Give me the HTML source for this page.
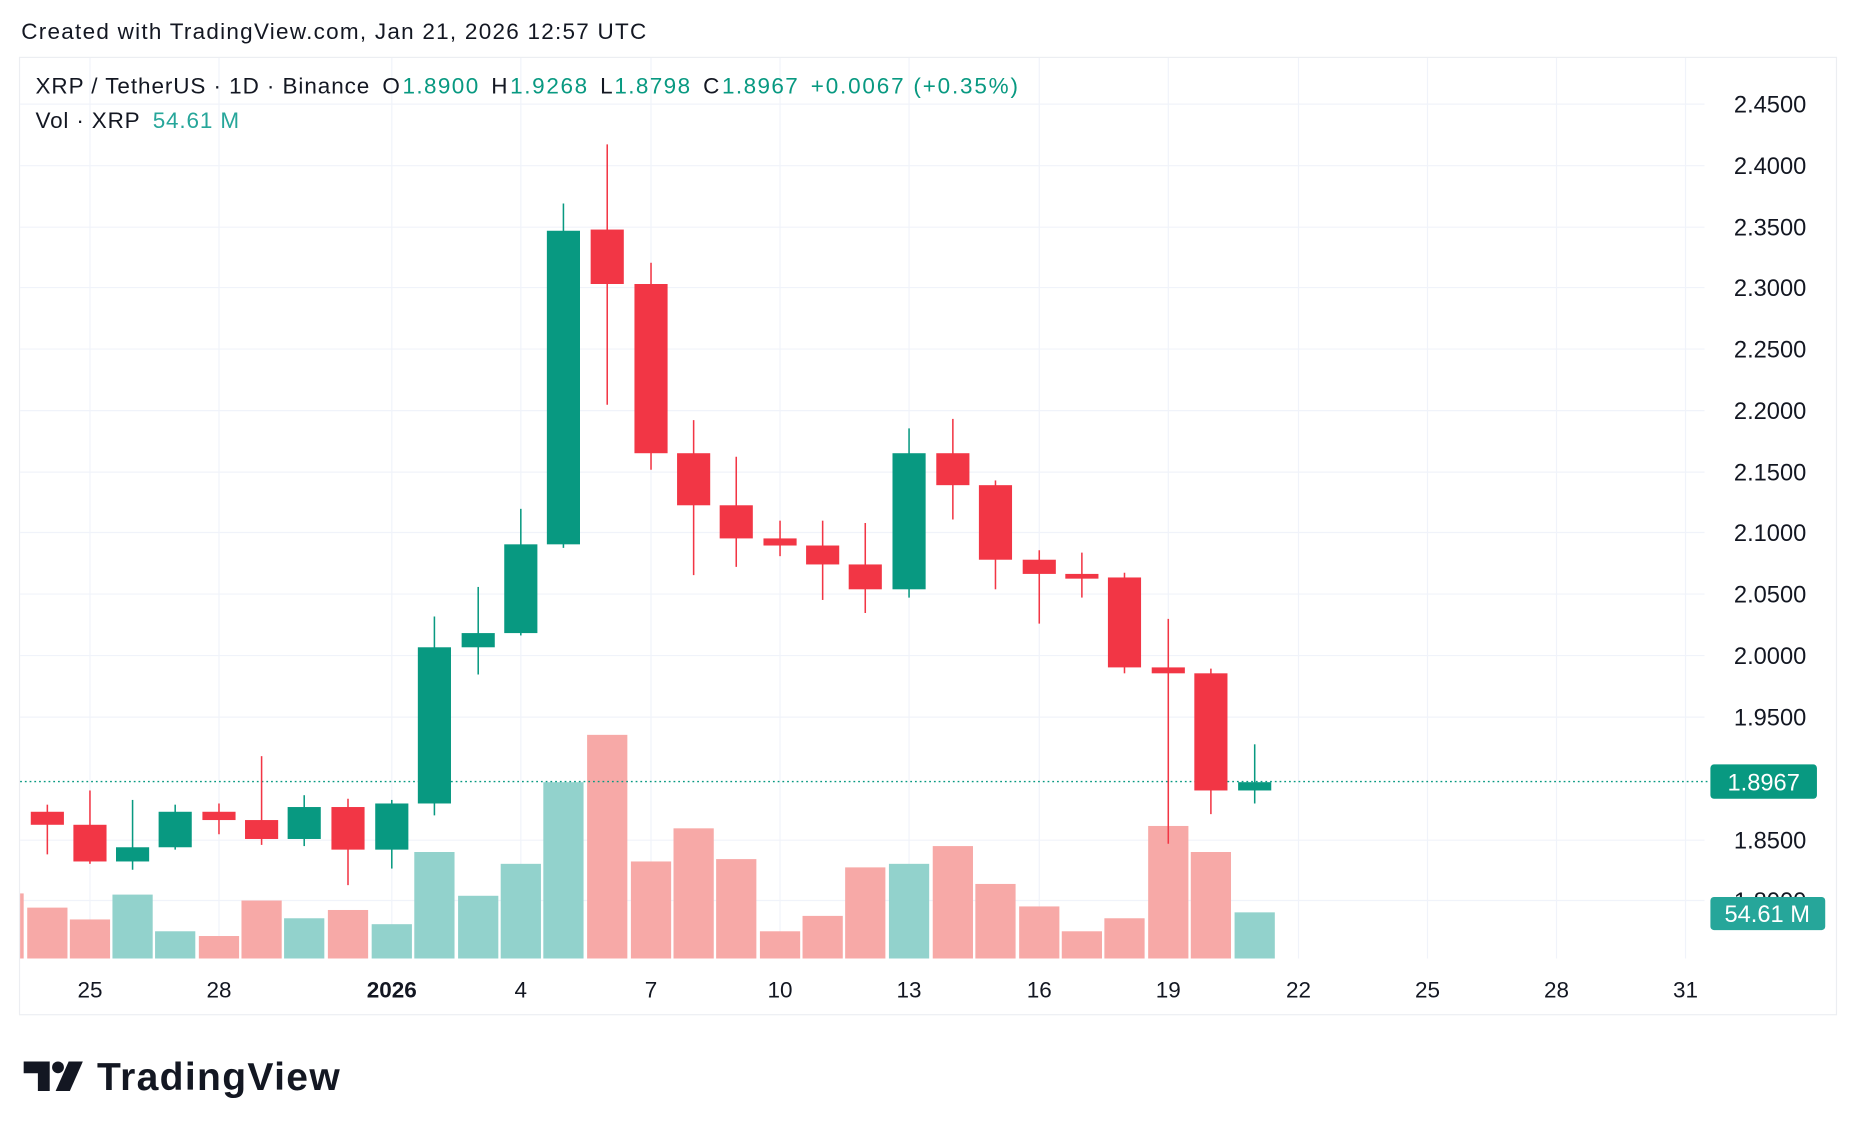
<!DOCTYPE html>
<html><head><meta charset="utf-8"><style>
html,body{margin:0;padding:0;background:#fff;}
svg{display:block;}
text{font-family:"Liberation Sans",sans-serif;}
</style></head><body>
<svg width="1856" height="1136" viewBox="0 0 1568 960" preserveAspectRatio="none" xmlns="http://www.w3.org/2000/svg">
<rect width="1568" height="960" fill="#fff"/>
<text x="18" y="33" font-size="19" fill="#131722" textLength="528">Created with TradingView.com, Jan 21, 2026 12:57 UTC</text>
<rect x="16.5" y="48.5" width="1535" height="809" fill="none" stroke="#eceef2"/>
<g stroke="#f0f3fa" stroke-width="1">
<line x1="76" y1="49" x2="76" y2="810"/><line x1="185" y1="49" x2="185" y2="810"/><line x1="331" y1="49" x2="331" y2="810"/><line x1="440" y1="49" x2="440" y2="810"/><line x1="550" y1="49" x2="550" y2="810"/><line x1="659" y1="49" x2="659" y2="810"/><line x1="768" y1="49" x2="768" y2="810"/><line x1="878" y1="49" x2="878" y2="810"/><line x1="987" y1="49" x2="987" y2="810"/><line x1="1097" y1="49" x2="1097" y2="810"/><line x1="1206" y1="49" x2="1206" y2="810"/><line x1="1315" y1="49" x2="1315" y2="810"/><line x1="1424" y1="49" x2="1424" y2="810"/>
<line x1="17" y1="88" x2="1440" y2="88"/><line x1="17" y1="140" x2="1440" y2="140"/><line x1="17" y1="192" x2="1440" y2="192"/><line x1="17" y1="243" x2="1440" y2="243"/><line x1="17" y1="295" x2="1440" y2="295"/><line x1="17" y1="347" x2="1440" y2="347"/><line x1="17" y1="399" x2="1440" y2="399"/><line x1="17" y1="450" x2="1440" y2="450"/><line x1="17" y1="502" x2="1440" y2="502"/><line x1="17" y1="554" x2="1440" y2="554"/><line x1="17" y1="606" x2="1440" y2="606"/><line x1="17" y1="710" x2="1440" y2="710"/><line x1="17" y1="761" x2="1440" y2="761"/>
</g>
<!-- volume -->
<g fill="#f7a9a7">
<rect x="17" y="755" width="3" height="55"/>
<rect x="23" y="767" width="34" height="43"/><rect x="59" y="777" width="34" height="33"/>
<rect x="168" y="791" width="34" height="19"/><rect x="204" y="761" width="34" height="49"/>
<rect x="277" y="769" width="34" height="41"/>
<rect x="496" y="621" width="34" height="189"/><rect x="533" y="728" width="34" height="82"/><rect x="569" y="700" width="34" height="110"/><rect x="605" y="726" width="34" height="84"/><rect x="642" y="787" width="34" height="23"/><rect x="678" y="774" width="34" height="36"/><rect x="714" y="733" width="34" height="77"/>
<rect x="788" y="715" width="34" height="95"/><rect x="824" y="747" width="34" height="63"/><rect x="861" y="766" width="34" height="44"/><rect x="897" y="787" width="34" height="23"/><rect x="933" y="776" width="34" height="34"/><rect x="970" y="698" width="34" height="112"/><rect x="1006" y="720" width="34" height="90"/>
</g>
<g fill="#92d2cc">
<rect x="95" y="756" width="34" height="54"/><rect x="131" y="787" width="34" height="23"/><rect x="240" y="776" width="34" height="34"/><rect x="314" y="781" width="34" height="29"/><rect x="350" y="720" width="34" height="90"/><rect x="387" y="757" width="34" height="53"/><rect x="423" y="730" width="34" height="80"/><rect x="459" y="661" width="34" height="149"/><rect x="751" y="730" width="34" height="80"/><rect x="1043" y="771" width="34" height="39"/>
</g>
<line x1="17" y1="660.5" x2="1444" y2="660.5" stroke="#089981" stroke-dasharray="1.5,2.5" stroke-width="1.2"/>
<!-- candles red -->
<g fill="#f23645" stroke="#f23645" stroke-width="1.3">
<line x1="40" y1="680" x2="40" y2="722"/><rect x="26" y="686" width="28" height="11" stroke="none"/>
<line x1="76" y1="668" x2="76" y2="730"/><rect x="62" y="697" width="28" height="31" stroke="none"/>
<line x1="185" y1="679" x2="185" y2="705"/><rect x="171" y="686" width="28" height="7" stroke="none"/>
<line x1="221" y1="639" x2="221" y2="714"/><rect x="207" y="693" width="28" height="16" stroke="none"/>
<line x1="294" y1="675" x2="294" y2="748"/><rect x="280" y="682" width="28" height="36" stroke="none"/>
<line x1="513" y1="122" x2="513" y2="342"/><rect x="499" y="194" width="28" height="46" stroke="none"/>
<line x1="550" y1="222" x2="550" y2="397"/><rect x="536" y="240" width="28" height="143" stroke="none"/>
<line x1="586" y1="355" x2="586" y2="486"/><rect x="572" y="383" width="28" height="44" stroke="none"/>
<line x1="622" y1="386" x2="622" y2="479"/><rect x="608" y="427" width="28" height="28" stroke="none"/>
<line x1="659" y1="440" x2="659" y2="470"/><rect x="645" y="455" width="28" height="6" stroke="none"/>
<line x1="695" y1="440" x2="695" y2="507"/><rect x="681" y="461" width="28" height="16" stroke="none"/>
<line x1="731" y1="442" x2="731" y2="518"/><rect x="717" y="477" width="28" height="21" stroke="none"/>
<line x1="805" y1="354" x2="805" y2="439"/><rect x="791" y="383" width="28" height="27" stroke="none"/>
<line x1="841" y1="406" x2="841" y2="498"/><rect x="827" y="410" width="28" height="63" stroke="none"/>
<line x1="878" y1="465" x2="878" y2="527"/><rect x="864" y="473" width="28" height="12" stroke="none"/>
<line x1="914" y1="467" x2="914" y2="505"/><rect x="900" y="485" width="28" height="4" stroke="none"/>
<line x1="950" y1="484" x2="950" y2="569"/><rect x="936" y="488" width="28" height="76" stroke="none"/>
<line x1="987" y1="523" x2="987" y2="713"/><rect x="973" y="564" width="28" height="5" stroke="none"/>
<line x1="1023" y1="565" x2="1023" y2="688"/><rect x="1009" y="569" width="28" height="99" stroke="none"/>
</g>
<g fill="#089981" stroke="#089981" stroke-width="1.3">
<line x1="112" y1="676" x2="112" y2="735"/><rect x="98" y="716" width="28" height="12" stroke="none"/>
<line x1="148" y1="680" x2="148" y2="718"/><rect x="134" y="686" width="28" height="30" stroke="none"/>
<line x1="257" y1="672" x2="257" y2="715"/><rect x="243" y="682" width="28" height="27" stroke="none"/>
<line x1="331" y1="676" x2="331" y2="734"/><rect x="317" y="679" width="28" height="39" stroke="none"/>
<line x1="367" y1="521" x2="367" y2="689"/><rect x="353" y="547" width="28" height="132" stroke="none"/>
<line x1="404" y1="496" x2="404" y2="570"/><rect x="390" y="535" width="28" height="12" stroke="none"/>
<line x1="440" y1="430" x2="440" y2="537"/><rect x="426" y="460" width="28" height="75" stroke="none"/>
<line x1="476" y1="172" x2="476" y2="463"/><rect x="462" y="195" width="28" height="265" stroke="none"/>
<line x1="768" y1="362" x2="768" y2="505"/><rect x="754" y="383" width="28" height="115" stroke="none"/>
<line x1="1060" y1="629" x2="1060" y2="679"/><rect x="1046" y="661" width="28" height="7" stroke="none"/>
</g>
<!-- legend -->
<g font-size="19">
<text x="30" y="79" fill="#131722" textLength="282">XRP / TetherUS · 1D · Binance</text>
<text x="323" y="79" fill="#131722">O</text><text x="340" y="79" fill="#089981" textLength="64">1.8900</text>
<text x="415" y="79" fill="#131722">H</text><text x="431" y="79" fill="#089981" textLength="65">1.9268</text>
<text x="507" y="79" fill="#131722">L</text><text x="519" y="79" fill="#089981" textLength="64">1.8798</text>
<text x="594" y="79" fill="#131722">C</text><text x="610" y="79" fill="#089981" textLength="64">1.8967</text>
<text x="685" y="79" fill="#089981" textLength="175">+0.0067 (+0.35%)</text>
<text x="30" y="108" fill="#131722" textLength="88">Vol · XRP</text>
<text x="129" y="108" fill="#26a69a" textLength="73">54.61 M</text>
</g>
<!-- price axis -->
<g font-size="20" fill="#131722" text-anchor="end">
<text x="1526" y="95">2.4500</text><text x="1526" y="147">2.4000</text><text x="1526" y="199">2.3500</text><text x="1526" y="250">2.3000</text><text x="1526" y="302">2.2500</text><text x="1526" y="354">2.2000</text><text x="1526" y="406">2.1500</text><text x="1526" y="457">2.1000</text><text x="1526" y="509">2.0500</text><text x="1526" y="561">2.0000</text><text x="1526" y="613">1.9500</text><text x="1526" y="717">1.8500</text><text x="1526" y="768">1.8000</text>
</g>
<rect x="1445" y="646" width="90" height="29" rx="3" fill="#089981"/>
<text x="1490" y="668" font-size="20" fill="#fff" text-anchor="middle">1.8967</text>
<rect x="1445" y="758" width="97" height="28" rx="3" fill="#26a69a"/>
<text x="1493" y="779" font-size="20" fill="#fff" text-anchor="middle">54.61 M</text>
<!-- time axis -->
<g font-size="19" fill="#131722" text-anchor="middle">
<text x="76" y="843">25</text><text x="185" y="843">28</text><text x="331" y="843" font-weight="bold">2026</text><text x="440" y="843">4</text><text x="550" y="843">7</text><text x="659" y="843">10</text><text x="768" y="843">13</text><text x="878" y="843">16</text><text x="987" y="843">19</text><text x="1097" y="843">22</text><text x="1206" y="843">25</text><text x="1315" y="843">28</text><text x="1424" y="843">31</text>
</g>
<!-- logo -->
<g fill="#131722">
<path d="M20 897h22v25h-10v-15h-12z"/><circle cx="49" cy="902" r="5"/><path d="M58 897h12l-11 25h-12z"/>
</g>
<text x="82" y="921" font-size="33" font-weight="bold" fill="#131722" textLength="205">TradingView</text>
</svg>
</body></html>
